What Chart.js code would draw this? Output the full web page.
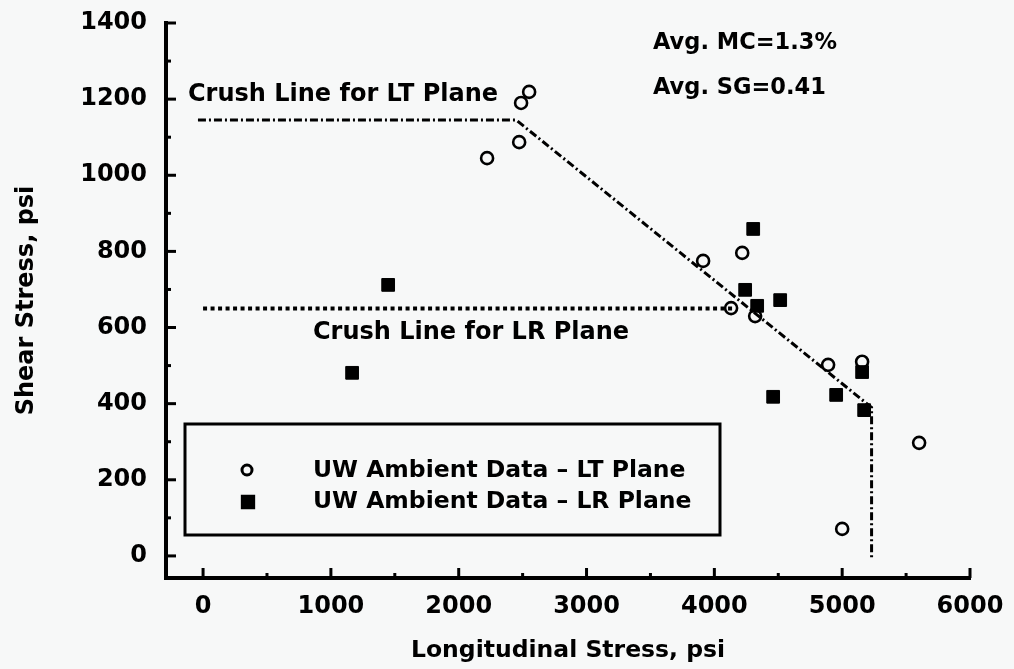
<!DOCTYPE html>
<html><head><meta charset="utf-8">
<script src="https://cdn.jsdelivr.net/npm/chart.js@4.4.0/dist/chart.umd.min.js"></script>
<style>html,body{margin:0;padding:0;background:#f7f8f8;}#wrap{width:1014px;height:669px;position:relative;}</style>
</head><body><div id="wrap"><canvas id="c" width="1014" height="669"></canvas></div>
<script>
// ---- data ----
const ltX = [2222, 2473, 2488, 2551, 3912, 4131, 4218, 4319, 4890, 5000, 5156, 5602];
const ltY = [1045, 1087, 1190, 1219, 775, 651, 796, 630, 502, 71, 510, 297];
const lrX = [1166, 1448, 4241, 4304, 4335, 4460, 4515, 4953, 5156, 5172];
const lrY = [481, 712, 699, 859, 657, 418, 672, 423, 483, 383];
const ltCrushX = [-40, 2450, 5230, 5230];
const ltCrushY = [1145, 1145, 390, -10];
const lrCrushX = [0, 4150];
const lrCrushY = [650, 650];
const xTickValues = [0, 1000, 2000, 3000, 4000, 5000, 6000];
const yTickValues = [0, 200, 400, 600, 800, 1000, 1200, 1400];
const seriesNames = ['UW Ambient Data \u2013 LT Plane', 'UW Ambient Data \u2013 LR Plane'];
const crushLabels = ['Crush Line for LT Plane', 'Crush Line for LR Plane'];
const notes = ['Avg. MC=1.3%', 'Avg. SG=0.41'];
const xTitle = 'Longitudinal Stress, psi';
const yTitle = 'Shear Stress, psi';

const FONT = 'DejaVu Sans';
const INK = '#000000';
const pts = (xs, ys) => xs.map((x, i) => ({x: x, y: ys[i]}));

const decor = {
  id: 'decor',
  afterDraw(chart) {
    const ctx = chart.ctx, ca = chart.chartArea;
    const xs = chart.scales.x, ys = chart.scales.y;
    ctx.save();
    ctx.strokeStyle = INK; ctx.lineWidth = 3; ctx.lineCap = 'butt';
    const drawX = (v, len) => { const p = xs.getPixelForValue(v); ctx.beginPath(); ctx.moveTo(p, ca.bottom); ctx.lineTo(p, ca.bottom - len); ctx.stroke(); };
    const drawY = (v, len) => { const p = ys.getPixelForValue(v); ctx.beginPath(); ctx.moveTo(ca.left, p); ctx.lineTo(ca.left + len, p); ctx.stroke(); };
    xTickValues.forEach((v, i) => { drawX(v, 10); if (i < xTickValues.length - 1) drawX((v + xTickValues[i + 1]) / 2, 5); });
    yTickValues.forEach((v, i) => { drawY(v, 10); if (i < yTickValues.length - 1) drawY((v + yTickValues[i + 1]) / 2, 5); });
    ctx.fillStyle = INK;
    ctx.textBaseline = 'middle'; ctx.textAlign = 'left';
    ctx.font = 'bold 24px "' + FONT + '"';
    ctx.fillText(crushLabels[0], 188, 95);
    ctx.fillText(crushLabels[1], 313, 333);
    ctx.font = 'bold 22.5px "' + FONT + '"';
    ctx.fillText(notes[0], 653, 43);
    ctx.fillText(notes[1], 653, 88);
    ctx.lineWidth = 3;
    ctx.strokeRect(185, 424, 535, 111);
    const d0 = chart.data.datasets[0], d1 = chart.data.datasets[1];
    ctx.fillStyle = 'rgba(0,0,0,0)';
    Chart.helpers.drawPoint(ctx, {pointStyle: d0.pointStyle, radius: 5, borderWidth: d0.borderWidth, rotation: 0}, 247, 470);
    ctx.fillStyle = INK;
    Chart.helpers.drawPoint(ctx, {pointStyle: d1.pointStyle, radius: 8, borderWidth: 1, rotation: 0}, 248, 502);
    ctx.font = 'bold 23.5px "' + FONT + '"';
    ctx.fillText(seriesNames[0], 313, 471);
    ctx.fillText(seriesNames[1], 313, 502);
    ctx.restore();
  }
};

new Chart(document.getElementById('c'), {
  type: 'scatter',
  data: {
    datasets: [
      {label: seriesNames[0], data: pts(ltX, ltY), pointStyle: 'circle', pointRadius: 6, borderWidth: 2.6,
       borderColor: INK, backgroundColor: 'rgba(0,0,0,0)', order: 0},
      {label: seriesNames[1], data: pts(lrX, lrY), pointStyle: 'rect', pointRadius: 9, borderWidth: 1,
       borderColor: INK, backgroundColor: INK, order: 1},
      {label: crushLabels[0], data: pts(ltCrushX, ltCrushY), showLine: true, pointRadius: 0, borderColor: INK,
       borderWidth: 3, borderDash: [8, 3, 2, 3], order: 2},
      {label: crushLabels[1], data: pts(lrCrushX, lrCrushY), showLine: true, pointRadius: 0, borderColor: INK,
       borderWidth: 4, borderDash: [4, 3.5], order: 2}
    ]
  },
  options: {
    responsive: false, animation: false, devicePixelRatio: 1,
    layout: {padding: {top: 23, right: 44, left: 0, bottom: 0}},
    plugins: {legend: {display: false}, tooltip: {enabled: false}},
    scales: {
      x: {
        type: 'linear', min: -290, max: 6000,
        afterFit: s => { s.height = 91; s.paddingLeft = 0; s.paddingRight = 0; },
        afterBuildTicks: s => { s.ticks = xTickValues.map(v => ({value: v})); },
        grid: {display: false, drawTicks: false},
        border: {display: true, color: INK, width: 4},
        ticks: {color: INK, padding: 14, maxRotation: 0, autoSkip: false, callback: v => String(v),
                font: {family: FONT, weight: 'bold', size: 24}},
        title: {display: true, text: xTitle, color: INK, padding: {top: 4, bottom: 4},
                font: {family: FONT, weight: 'bold', size: 23.5}}
      },
      y: {
        type: 'linear', min: -58, max: 1400,
        afterFit: s => { s.width = 166; s.paddingTop = 0; s.paddingBottom = 0; },
        afterBuildTicks: s => { s.ticks = yTickValues.map(v => ({value: v})); },
        grid: {display: false, drawTicks: false},
        border: {display: true, color: INK, width: 4},
        ticks: {color: INK, padding: 19, autoSkip: false, callback: v => String(v),
                font: {family: FONT, weight: 'bold', size: 24}},
        title: {display: true, text: yTitle, color: INK, padding: {top: 12, bottom: 0},
                font: {family: FONT, weight: 'bold', size: 24}}
      }
    }
  },
  plugins: [decor]
});
</script></body></html>
